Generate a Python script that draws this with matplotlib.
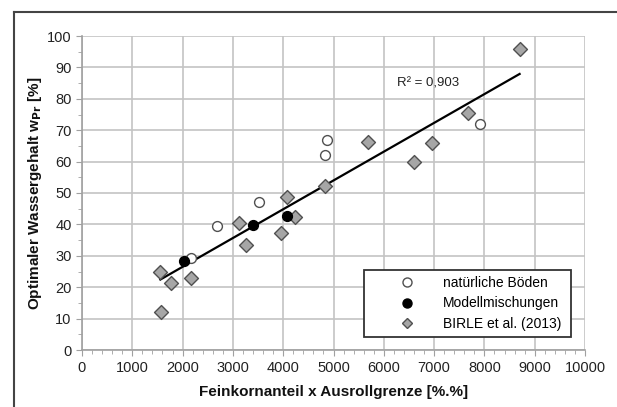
import numpy as np
import matplotlib
matplotlib.use("Agg")
import matplotlib.pyplot as plt
from matplotlib.lines import Line2D
from matplotlib.ticker import MultipleLocator

plt.rcParams['font.family'] = ['Liberation Sans', 'DejaVu Sans']

# natuerliche Boeden
nat_x = [2169, 2686, 3516, 4840, 4863, 7909]
nat_y = [29.4, 39.6, 47.2, 62.1, 66.8, 72.0]
# Modellmischungen
mod_x = [2028, 3406, 4072]
mod_y = [28.5, 39.7, 42.6]
# BIRLE et al. (2013)
bir_x = [1558, 1574, 1778, 2161, 3117, 3265, 3962, 4072, 4236, 4824, 5677, 6601, 6954, 7666, 8700]
bir_y = [24.8, 12.1, 21.3, 23.0, 40.6, 33.4, 37.4, 48.8, 42.2, 52.3, 66.3, 60.0, 66.0, 75.4, 96.0]

r2_text = "R² = 0,903"
labels = ["natürliche Böden", "Modellmischungen", "BIRLE et al. (2013)"]

fig = plt.figure(figsize=(6.17, 4.07), dpi=100)
ax = fig.add_axes([82/617, 1-350/407, (585-82)/617, (350-36)/407])

# outer frame (left + top visible)
fig.add_artist(Line2D([14/617, 14/617], [0, 1-12/407], transform=fig.transFigure, color='#444444', lw=1.5))
fig.add_artist(Line2D([14/617, 1], [1-12/407, 1-12/407], transform=fig.transFigure, color='#444444', lw=1.5))

# trend line over all points
all_x = np.array(nat_x + mod_x + bir_x, dtype=float)
all_y = np.array(nat_y + mod_y + bir_y, dtype=float)
k, d = np.polyfit(all_x, all_y, 1)
xl = np.array([all_x.min(), all_x.max()])
ax.plot(xl, k*xl + d, color='black', lw=1.6, zorder=3)

ax.scatter(bir_x, bir_y, marker='D', s=50, facecolor='#a6a6a6', edgecolor='#505050', lw=1.0, zorder=4)
ax.scatter(nat_x, nat_y, marker='o', s=50, facecolor='white', edgecolor='#505050', lw=1.0, zorder=5)
ax.scatter(mod_x, mod_y, marker='o', s=50, facecolor='black', edgecolor='black', lw=1.0, zorder=5)

ax.text(6262, 85.0, r2_text, fontsize=9.5, va='center', ha='left', color='#222222')

ax.set_xlim(0, 10000)
ax.set_ylim(0, 100)
ax.xaxis.set_major_locator(MultipleLocator(1000))
ax.xaxis.set_minor_locator(MultipleLocator(200))
ax.yaxis.set_major_locator(MultipleLocator(10))
ax.yaxis.set_minor_locator(MultipleLocator(5))
ax.grid(True, which='major', color='#c4c4c4', lw=1.2)
ax.set_axisbelow(True)
for s in ['top', 'right']:
    ax.spines[s].set_visible(False)
for s in ['left', 'bottom']:
    ax.spines[s].set_color('#a0a0a0')
    ax.spines[s].set_linewidth(1.2)
ax.tick_params(which='both', direction='out', color='#a0a0a0', labelsize=10.5, labelcolor='#222222')
ax.tick_params(which='major', length=4)
ax.tick_params(which='minor', length=3)
ax.tick_params(axis='x', pad=4)

ax.set_xlabel("Feinkornanteil x Ausrollgrenze [%.%]", fontsize=11, fontweight='bold', labelpad=7, color='#111111')
ax.set_ylabel(r"Optimaler Wassergehalt w$_{\mathbf{Pr}}$ [%]", fontsize=11, fontweight='bold', labelpad=2, color='#111111')

handles = [
    Line2D([], [], ls='none', marker='o', ms=6.5, mfc='white', mec='#505050'),
    Line2D([], [], ls='none', marker='o', ms=6.5, mfc='black', mec='black'),
    Line2D([], [], ls='none', marker='D', ms=5, mfc='#a6a6a6', mec='#505050'),
]
leg = ax.legend(handles, labels, loc='lower left', bbox_to_anchor=((364-82)/503, (350-337)/314, (571-364)/503, (337-273)/314),
                mode='expand', fontsize=10, frameon=True, fancybox=False, handletextpad=-0.05,
                borderpad=0.43, labelspacing=0.47, handlelength=5.3, borderaxespad=0)
leg.get_frame().set_edgecolor('#333333')
leg.get_frame().set_linewidth(1.3)
leg.get_frame().set_alpha(1)

fig.savefig("out.png", dpi=100)
